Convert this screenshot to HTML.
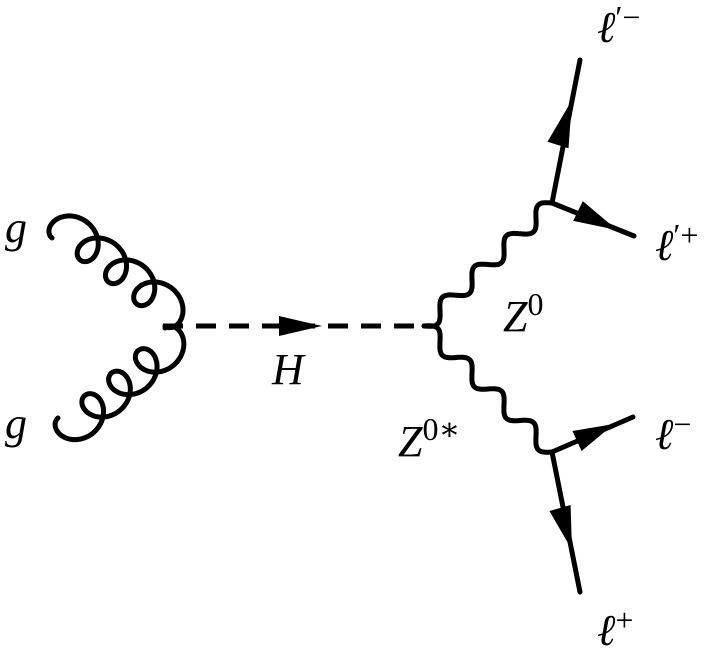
<!DOCTYPE html>
<html><head><meta charset="utf-8"><style>
html,body{margin:0;padding:0;background:#fff;width:725px;height:654px;overflow:hidden}
text{font-family:"Liberation Serif","DejaVu Serif",serif;font-style:italic;font-size:44px;fill:#000}
</style></head><body>
<svg id="s" width="725" height="654" viewBox="0 0 725 654" xmlns="http://www.w3.org/2000/svg">
<g fill="none" stroke="#000" stroke-width="5" stroke-linecap="round">
<path id="g1"/><path id="g2"/><path id="w1"/><path id="w2"/>
<line x1="163" y1="326" x2="422" y2="326" stroke-dasharray="20 13" stroke-linecap="butt"/>
<line x1="552" y1="203" x2="580" y2="60"/>
<line x1="552" y1="203" x2="634" y2="236"/>
<line x1="552" y1="452" x2="633" y2="417"/>
<line x1="552" y1="452" x2="580" y2="592"/>
</g>
<g fill="#000">
<polygon points="279,316 322,326 279,336"/>
<polygon id="a1"/><polygon id="a2"/><polygon id="a3"/><polygon id="a4"/>
</g>
<text x="5" y="242" font-family="Liberation Serif, serif">g</text>
<text x="5" y="438" font-family="Liberation Serif, serif">g</text>
<text x="272" y="384" font-family="Liberation Serif, serif">H</text>
<text x="503" y="331" font-family="Liberation Serif, serif">Z<tspan font-style="normal" font-size="32" dy="-16">0</tspan></text>
<text x="398" y="456" font-family="Liberation Serif, serif">Z<tspan font-style="normal" font-size="32" dy="-16">0∗</tspan></text>
<text x="597" y="42">ℓ<tspan font-style="normal" font-size="32" dy="-14">′−</tspan></text>
<text x="655" y="260">ℓ<tspan font-style="normal" font-size="32" dy="-14">′+</tspan></text>
<text x="655" y="449">ℓ<tspan font-style="normal" font-size="32" dy="-14">−</tspan></text>
<text x="597" y="645">ℓ<tspan font-style="normal" font-size="32" dy="-14">+</tspan></text>
</svg>
<script>
function gluon(id,ax,ay,bx,by,N,d,sgn){
 var dx=bx-ax,dy=by-ay,L=Math.hypot(dx,dy),ux=dx/L,uy=dy/L,nx=-uy*sgn,ny=ux*sgn;
 var r=L/(2*Math.PI*N),p="";
 for(var i=0;i<=400;i++){var th=2*Math.PI*N*i/400;
  var a=r*th - 0.5*d*Math.sin(th), b=0.5*d*(1-Math.cos(th));
  var x=ax+ux*a+nx*b,y=ay+uy*a+ny*b;p+=(i?"L":"M")+x.toFixed(1)+" "+y.toFixed(1);}
 document.getElementById(id).setAttribute("d",p);}
function wave(id,ax,ay,bx,by,N,A){
 var dx=bx-ax,dy=by-ay,L=Math.hypot(dx,dy),ux=dx/L,uy=dy/L,nx=-uy,ny=ux,p="";
 for(var i=0;i<=300;i++){var s=i/300,a=L*s,b=A*Math.sin(2*Math.PI*N*s);
  var x=ax+ux*a+nx*b,y=ay+uy*a+ny*b;p+=(i?"L":"M")+x.toFixed(1)+" "+y.toFixed(1);}
 document.getElementById(id).setAttribute("d",p);}
function arrow(id,x1,y1,x2,y2,h){
 var dx=x2-x1,dy=y2-y1,L=Math.hypot(dx,dy),nx=-dy/L*h,ny=dx/L*h;
 document.getElementById(id).setAttribute("points",(x1+nx)+","+(y1+ny)+" "+x2+","+y2+" "+(x1-nx)+","+(y1-ny));}
gluon("g1",52,238,165,326,4,34,-1);
gluon("g2",58,418,165,328,4,34,1);
wave("w1",424,326,552,203,4,8);
wave("w2",424,326,552,452,4,-8);
arrow("a1",558,145,572,100,11);
arrow("a2",578,211,617,230,11);
arrow("a3",577,441,614,424,11);
arrow("a4",560,508,572,550,11);
</script>
</body></html>
